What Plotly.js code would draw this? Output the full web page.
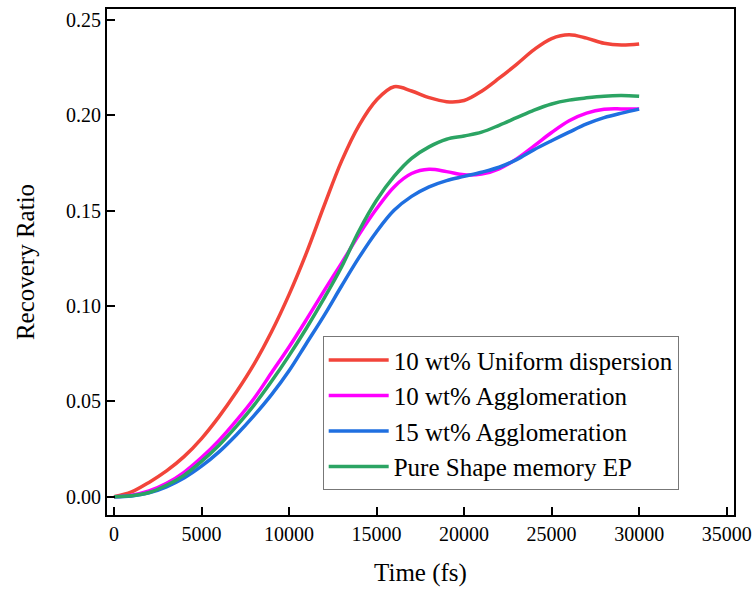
<!DOCTYPE html>
<html>
<head>
<meta charset="utf-8">
<script src="https://cdn.plot.ly/plotly-3.0.1.min.js"></script>
<style>html,body{margin:0;padding:0;background:#fff;}#chart{width:755px;height:590px;}</style>
</head>
<body>
<div id="chart"></div>
<script>
const time = [0,1000,2000,3000,4000,5000,6000,7000,8000,9000,10000,11000,12000,13000,14000,15000,16000,17000,18000,19000,20000,21000,22000,23000,24000,25000,26000,27000,28000,29000,30000];
const uniform10 = [0,0.0025,0.0075,0.0135,0.021,0.0305,0.042,0.055,0.0695,0.0865,0.106,0.128,0.1525,0.176,0.1948,0.2081,0.2150,0.2128,0.2093,0.2072,0.2078,0.2127,0.2195,0.2268,0.2345,0.2403,0.2423,0.2405,0.2378,0.2369,0.2375];
const agglo10 = [0,0.0008,0.003,0.007,0.0128,0.0205,0.0295,0.040,0.0515,0.065,0.0785,0.093,0.108,0.1225,0.1375,0.151,0.1625,0.1695,0.1717,0.1705,0.1688,0.1692,0.172,0.1772,0.184,0.191,0.1972,0.2012,0.2032,0.2034,0.2033];
const agglo15 = [0,0.0004,0.002,0.0052,0.0098,0.016,0.0235,0.0325,0.0425,0.0535,0.066,0.0805,0.095,0.1105,0.1255,0.139,0.1502,0.1575,0.1625,0.1658,0.168,0.1702,0.1728,0.1768,0.182,0.1867,0.1912,0.1955,0.1988,0.2012,0.2033];
const pureEP = [0,0.0005,0.0022,0.006,0.0112,0.0185,0.027,0.037,0.048,0.0605,0.074,0.0885,0.104,0.1205,0.1395,0.1555,0.168,0.1775,0.1835,0.1875,0.1892,0.1912,0.1948,0.1988,0.2028,0.206,0.208,0.2092,0.2101,0.2104,0.2100];
const seriesNames = ["10 wt% Uniform dispersion","10 wt% Agglomeration","15 wt% Agglomeration","Pure Shape memory EP"];
const seriesColors = ["#F2443A","#FF00FF","#1F6FE0","#2BA463"];
const seriesValues = [uniform10, agglo10, agglo15, pureEP];
const xTicks = [0,5000,10000,15000,20000,25000,30000,35000];
const yTicks = [0,0.05,0.10,0.15,0.20,0.25];

const serif = "'Liberation Serif', 'Times New Roman', serif";
const traces = seriesValues.map((v,i)=>({
  x: time, y: v, type: 'scatter', mode: 'lines', name: seriesNames[i],
  line: {color: seriesColors[i], width: 3.5, shape: 'spline', smoothing: 1}
}));
const layout = {
  width: 755, height: 590,
  margin: {l:107, r:21, t:9, b:75},
  paper_bgcolor: '#fff', plot_bgcolor: '#fff',
  font: {family: serif, color: '#000', size: 20},
  showlegend: true,
  legend: {x: 0.344, y: 0.049, xanchor: 'left', yanchor: 'bottom',
    bordercolor: '#777', borderwidth: 1, bgcolor: '#fff',
    font: {family: serif, size: 25, color: '#000'}, itemwidth: 60, tracegroupgap: 0},
  xaxis: {range: [-400, 35420], tickvals: xTicks, ticktext: xTicks.map(String),
    ticks: 'inside', ticklen: 8, tickwidth: 2, tickcolor: '#000',
    showline: true, linewidth: 2, linecolor: '#000', mirror: true,
    showgrid: false, zeroline: false,
    tickfont: {family: serif, size: 20},
    title: {text: 'Time (fs)', font: {family: serif, size: 25}, standoff: 19}},
  yaxis: {range: [-0.0096, 0.2558], tickvals: yTicks, ticktext: yTicks.map(v=>v.toFixed(2)),
    ticks: 'inside', ticklen: 8, tickwidth: 2, tickcolor: '#000',
    showline: true, linewidth: 2, linecolor: '#000', mirror: true,
    showgrid: false, zeroline: false,
    tickfont: {family: serif, size: 20},
    title: {text: 'Recovery Ratio', font: {family: serif, size: 25}, standoff: 24}}
};
Plotly.newPlot('chart', traces, layout, {displayModeBar: false, staticPlot: true});
</script>
</body>
</html>
